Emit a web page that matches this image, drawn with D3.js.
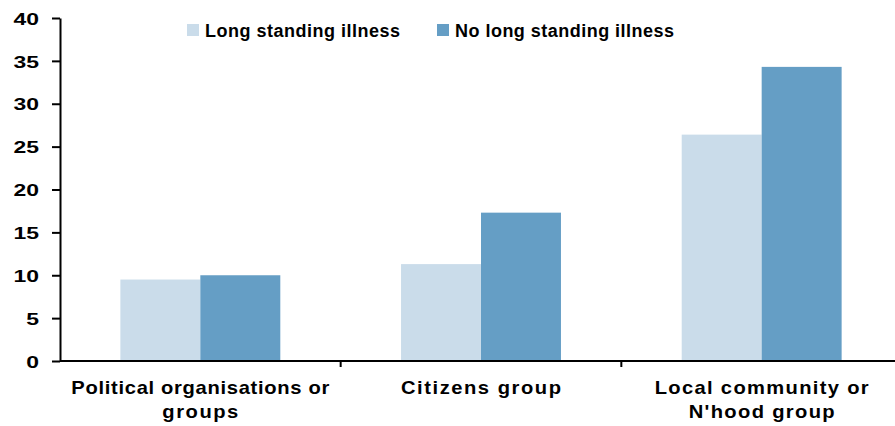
<!DOCTYPE html>
<html>
<head>
<meta charset="utf-8">
<script src="https://cdn.jsdelivr.net/npm/d3@7/dist/d3.min.js"></script>
<style>
  html, body { margin: 0; padding: 0; background: #fff; }
  svg { display: block; font-family: "Liberation Sans", Arial, sans-serif; font-weight: bold; }
</style>
</head>
<body>
<svg id="chart" width="895" height="426"></svg>
<script>
// Participation by illness status (%)
const categories = [
  ["Political organisations or", "groups"],
  ["Citizens group"],
  ["Local community or", "N'hood group"]
];
const seriesNames = ["Long standing illness", "No long standing illness"];
const longStanding = [9.5, 11.3, 26.4];
const noLongStanding = [10.0, 17.3, 34.3];
const yTicks = [0, 5, 10, 15, 20, 25, 30, 35, 40];
const colors = ["#cadcea", "#659ec5"];

const svg = d3.select("#chart");
const axisX = 60, plotTop = 18, plotBottom = 361;
const wide = 1.12;      // horizontal stretch for the category lettering
const tickWide = 1.35;  // stretch for the axis numerals

const y = d3.scaleLinear().domain([0, 40]).range([plotBottom, plotTop]);
const x0 = d3.scaleBand().domain(d3.range(categories.length)).range([axisX, 902]);
const x1 = d3.scaleBand().domain([0, 1]).range([0, x0.bandwidth()]).paddingOuter(0.755).paddingInner(0);

const data = categories.map((c, i) => ({ i, values: [longStanding[i], noLongStanding[i]] }));

// Bars
const groups = svg.append("g").selectAll("g").data(data).join("g")
  .attr("transform", d => `translate(${x0(d.i)},0)`);
groups.selectAll("rect").data(d => d.values.map((v, s) => ({ v, s }))).join("rect")
  .attr("x", d => x1(d.s))
  .attr("width", x1.bandwidth())
  .attr("y", d => y(d.v))
  .attr("height", d => y(0) - y(d.v))
  .attr("fill", d => colors[d.s]);

// Y axis
const yAxis = svg.append("g").attr("transform", `translate(${axisX},0)`)
  .call(d3.axisLeft(y).tickValues(yTicks).tickSize(8).tickSizeOuter(0));
yAxis.select(".domain").attr("stroke", "#000").attr("stroke-width", 2);
yAxis.selectAll(".tick line").attr("stroke", "#000").attr("stroke-width", 2);
yAxis.selectAll(".tick text")
  .attr("font-size", 17)
  .attr("font-family", "Liberation Sans, Arial, sans-serif")
  .attr("font-weight", "bold")
  .attr("fill", "#000")
  .attr("x", -21 / tickWide)
  .attr("dy", "0.36em")
  .attr("transform", `scale(${tickWide},1)`);

// X axis with tick marks at category boundaries
const xAxisG = svg.append("g");
xAxisG.append("line").attr("x1", axisX).attr("x2", 895)
  .attr("y1", y(0)).attr("y2", y(0)).attr("stroke", "#000").attr("stroke-width", 2);
xAxisG.selectAll("line.bound").data(d3.range(1, categories.length)).join("line")
  .attr("class", "bound")
  .attr("x1", d => x0(d)).attr("x2", d => x0(d))
  .attr("y1", y(0)).attr("y2", y(0) + 6)
  .attr("stroke", "#000").attr("stroke-width", 2);

// Category labels
const labelWidths = [[258, 76], [160], [214, 146]];
data.forEach(d => {
  categories[d.i].forEach((line, k) => {
    svg.append("g")
      .attr("transform", `translate(${x0(d.i) + x0.bandwidth() / 2},${394 + k * 24}) scale(${wide},1)`)
      .append("text")
      .attr("text-anchor", "middle")
      .attr("font-size", 18)
      .attr("fill", "#000")
      .attr("textLength", labelWidths[d.i][k] / wide)
      .attr("lengthAdjust", "spacing")
      .text(line);
  });
});

// Legend
const legendX = [187, 437];
const legendW = [195, 219];
const legend = svg.append("g").selectAll("g").data(seriesNames).join("g")
  .attr("transform", (d, i) => `translate(${legendX[i]},24)`);
legend.append("rect").attr("width", 12).attr("height", 12).attr("fill", (d, i) => colors[i]);
legend.append("text").attr("x", 18).attr("y", 13).attr("font-size", 18).attr("fill", "#000")
  .attr("textLength", (d, i) => legendW[i]).attr("lengthAdjust", "spacing")
  .text(d => d);
</script>
</body>
</html>
